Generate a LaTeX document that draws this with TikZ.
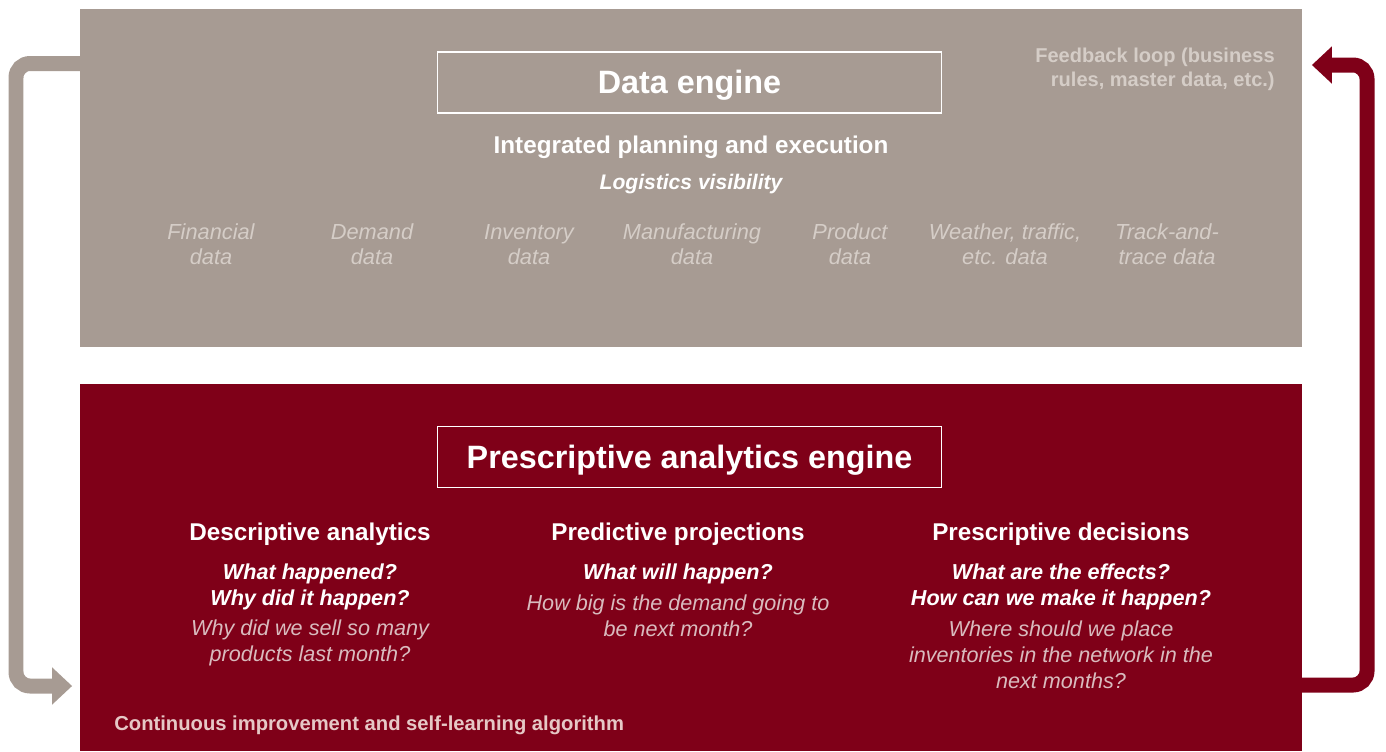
\documentclass[tikz,border=0pt]{standalone}
\usepackage{fontspec}
\setmainfont{Liberation Sans}
\usepackage{xcolor}
\usetikzlibrary{arrows.meta}

\definecolor{stone}{RGB}{167,155,147}
\definecolor{wine}{RGB}{127,0,24}
\definecolor{stonetext}{RGB}{213,205,199}
\definecolor{rosetext}{RGB}{217,187,190}
\definecolor{rosebold}{RGB}{230,200,198}

\tikzset{
  panel/.style={minimum width=24.44cm, inner sep=0pt, outer sep=0pt},
  titlebox/.style={draw=white, line width=0.6pt, minimum width=10.1cm, minimum height=1.22cm,
    text height=16.8pt, text depth=3.9pt,
    text=white, font=\bfseries\fontsize{18.4}{22}\selectfont},
  subhead/.style={text=white, font=\bfseries\fontsize{13.8}{16}\selectfont},
  datalabel/.style={text=stonetext, align=center, font=\itshape\fontsize{12.4}{14.2}\selectfont,
    execute at begin node={\strut}, execute at end node={\strut}},
  question/.style={text=white, align=center, font=\bfseries\itshape\fontsize{12.3}{14.7}\selectfont},
  example/.style={text=rosetext, align=center, font=\itshape\fontsize{12.3}{14.7}\selectfont},
  loopline/.style={line width=0.3cm, rounded corners=0.28cm,
    -{Triangle[width=0.72cm,length=0.4cm]}},
}

\begin{document}
\begin{tikzpicture}[x=0.02cm, y=-0.02cm]
    \useasboundingbox (0,0) rectangle (1386,751);

    % the two engines
    \node[panel, fill=stone, minimum height=6.76cm] (databox) at (691,178) {};
    \node[panel, fill=wine, minimum height=7.34cm] (engbox) at (691,567.5) {};

    % data engine
    \node[titlebox] (datatitle) at (689.5,82.5) {Data engine};
    \node[subhead] (planning) at (691,147) {Integrated planning and execution};
    \node[question, font=\bfseries\itshape\fontsize{12}{14}\selectfont] (visibility) at (691,184) {Logistics visibility};
    \node[text=stonetext, align=right, anchor=east, inner sep=0pt, font=\bfseries\fontsize{11.4}{13.6}\selectfont]
        (feedback) at (1275,69) {Feedback loop (business\\rules, master data, etc.)};

    \foreach \x/\txt [count=\i] in {211/{Financial\\data}, 372/{Demand\\data}, 529/{Inventory\\data},
        692/{Manufacturing\\data}, 850/{Product\\data}, 1005/{Weather, traffic,\\etc. data},
        1167/{Track-and-\\trace data}}
    \node[datalabel] (source\i) at (\x,248) {\txt};

    % prescriptive analytics engine
    \node[titlebox] (engtitle) at (689.5,457) {Prescriptive analytics engine};

    \node[subhead] (descr) at (310,534) {Descriptive analytics};
    \node[question] (descrq) at (310,587) {What happened?\\Why did it happen?};
    \node[example] (descrex) at (310,643) {Why did we sell so many\\products last month?};

    \node[subhead] (predict) at (678,534) {Predictive projections};
    \node[question] (predictq) at (678,574) {What will happen?};
    \node[example] (predictex) at (678,615.5) {How big is the demand going to\\be next month?};

    \node[subhead] (prescr) at (1061,534) {Prescriptive decisions};
    \node[question] (prescrq) at (1061,587) {What are the effects?\\How can we make it happen?};
    \node[example] (prescrex) at (1061,655) {Where should we place\\inventories in the network in the\\next months?};

    \node[text=rosebold, anchor=west, inner sep=0pt, font=\bfseries\fontsize{11.5}{14}\selectfont]
        (learning) at (114,725) {Continuous improvement and self-learning algorithm};

    % loops between the engines
    \coordinate (gtop) at (16,63.5);
    \coordinate (gbot) at (16,686);
    \coordinate (rtop) at (1367,65);
    \coordinate (rbot) at (1367,685);

    \draw[loopline, draw=stone, shorten >=0.16cm]
        (databox.west |- gtop) -- (gtop) -- (gbot) -- (engbox.west |- gbot);
    \draw[loopline, draw=wine, shorten >=0.2cm]
        (engbox.east |- rbot) -- (rbot) -- (rtop) -- (databox.east |- rtop);
\end{tikzpicture}
\end{document}
